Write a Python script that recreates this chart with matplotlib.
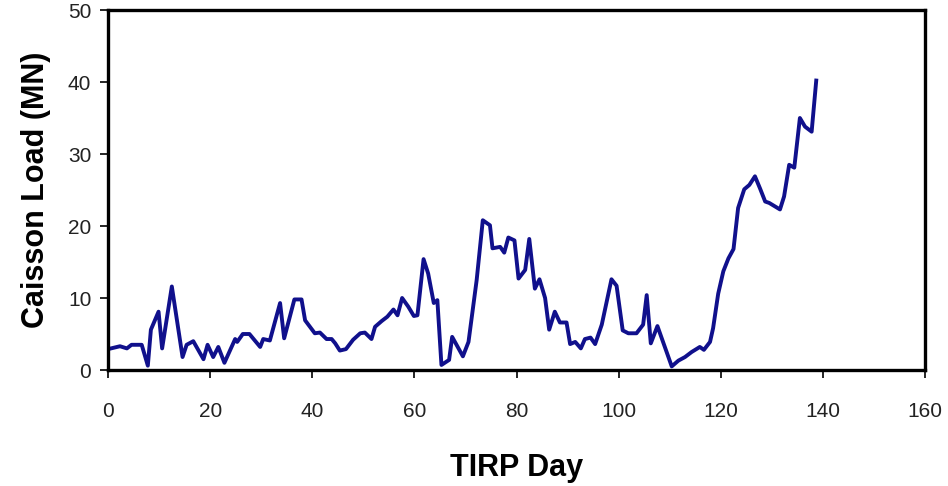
import matplotlib
matplotlib.use("Agg")
import matplotlib.pyplot as plt

plt.rcParams['font.family'] = ['Liberation Sans', 'DejaVu Sans']

day = [0.0, 2.35, 3.7, 4.6, 6.6, 7.8, 8.4, 9.9, 10.6, 12.5, 14.6, 15.4, 16.7, 18.7,
       19.5, 20.6, 21.6, 22.8, 24.9, 25.3, 26.4, 27.7, 29.8, 30.4, 31.7, 33.7, 34.5,
       36.5, 37.9, 38.6, 40.5, 41.5, 42.8, 43.8, 44.5, 45.4, 46.6, 48.0, 49.4, 50.3,
       51.6, 52.3, 53.6, 54.7, 55.9, 56.7, 57.6, 58.8, 59.9, 60.6, 61.8, 62.7, 63.8,
       64.5, 65.3, 66.8, 67.4, 69.5, 70.6, 72.2, 73.4, 74.8, 75.3, 76.8, 77.6, 78.4,
       79.6, 80.4, 81.7, 82.5, 83.6, 84.5, 85.6, 86.4, 87.5, 88.5, 89.8, 90.5, 91.5,
       92.6, 93.4, 94.5, 95.4, 96.7, 98.6, 99.6, 100.8, 101.9, 103.5, 104.8, 105.5,
       106.3, 107.6, 110.4, 111.7, 113.0, 114.3, 115.9, 116.7, 117.9, 118.5, 119.5,
       120.5, 121.5, 122.5, 123.4, 124.6, 125.6, 126.7, 127.7, 128.7, 129.5, 131.6,
       132.4, 133.4, 134.4, 135.5, 136.5, 137.8, 138.7]
load = [2.9, 3.3, 3.0, 3.5, 3.5, 0.6, 5.6, 8.1, 3.0, 11.6, 1.8, 3.5, 4.0, 1.5,
        3.5, 1.8, 3.2, 1.0, 4.3, 3.9, 5.0, 5.0, 3.2, 4.3, 4.1, 9.3, 4.4,
        9.8, 9.8, 6.9, 5.1, 5.2, 4.3, 4.3, 3.7, 2.7, 2.9, 4.2, 5.1, 5.2,
        4.3, 6.0, 6.8, 7.4, 8.4, 7.6, 10.0, 8.8, 7.5, 7.6, 15.4, 13.4, 9.3,
        9.7, 0.7, 1.4, 4.6, 1.9, 3.9, 12.5, 20.8, 20.1, 16.9, 17.1, 16.3, 18.4,
        18.0, 12.7, 13.9, 18.2, 11.3, 12.6, 10.0, 5.6, 8.1, 6.6, 6.6, 3.6, 3.9,
        3.0, 4.3, 4.5, 3.6, 6.3, 12.6, 11.7, 5.5, 5.1, 5.1, 6.3, 10.4,
        3.7, 6.1, 0.5, 1.3, 1.8, 2.5, 3.2, 2.8, 3.9, 5.8, 10.6,
        13.7, 15.5, 16.8, 22.5, 25.1, 25.7, 26.9, 25.2, 23.4, 23.2, 22.3,
        24.1, 28.5, 28.1, 35.0, 33.8, 33.1, 40.2]

xticks = [0, 20, 40, 60, 80, 100, 120, 140, 160]
yticks = [0, 10, 20, 30, 40, 50]

fig = plt.figure(figsize=(9.48, 4.86), dpi=100)
ax = fig.add_axes([108/948, 1 - 370/486, (925-108)/948, (370-10)/486])
ax.plot(day, load, color='#10108c', lw=2.8, solid_joinstyle='round')
ax.set_xlim(0, 160)
ax.set_ylim(0, 50)
ax.set_xticks(xticks)
ax.set_yticks(yticks)
ax.tick_params(axis='both', direction='out', length=6, width=1.2, labelsize=15,
               colors='black', labelcolor='#222222')
ax.tick_params(axis='x', pad=17)
ax.tick_params(axis='y', pad=6)
for s in ax.spines.values():
    s.set_linewidth(2.4)
    s.set_color('black')
ax.set_xlabel('TIRP Day', fontsize=22, fontweight='bold', labelpad=23)
ax.set_ylabel('Caisson Load (MN)', fontsize=22, fontweight='bold', labelpad=12)
fig.savefig('out.png', dpi=100)
